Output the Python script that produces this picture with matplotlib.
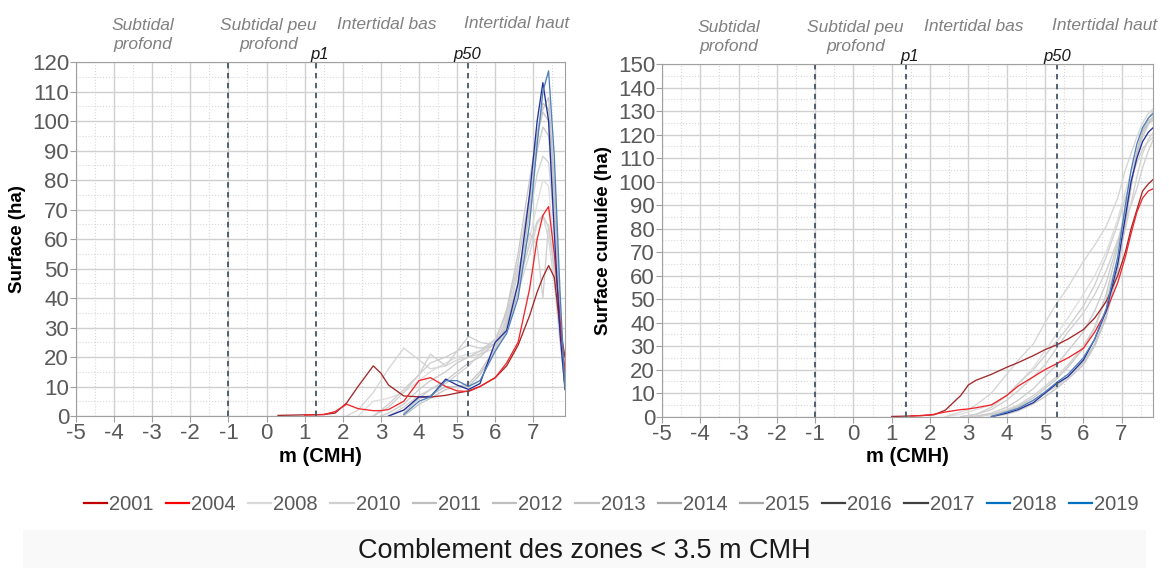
import numpy as np
import matplotlib
matplotlib.use('Agg')
import matplotlib.pyplot as plt
from matplotlib.lines import Line2D
from matplotlib.patches import Rectangle
from matplotlib.ticker import MultipleLocator

plt.rcParams['font.family'] = ['Liberation Sans', 'DejaVu Sans']
plt.rcParams['axes.unicode_minus'] = False

n = np.nan

# altitude grid (m CMH)
X = [0.3, 1.0, 1.5, 1.8, 2.1, 2.4, 2.8, 3.0, 3.2, 3.6, 4.0, 4.3, 4.7, 5.0, 5.3,
     5.6, 6.0, 6.3, 6.6, 6.9, 7.1, 7.25, 7.4, 7.55, 7.7, 7.83]

years = ['2001', '2004', '2008', '2010', '2011', '2012', '2013', '2014', '2015',
         '2016', '2017', '2018', '2019']

# surface (ha) par tranche d'altitude
d2001 = [0.2, 0.4, 0.5, 1.0, 4.4, 10, 17, 14.5, 10.5, 6.8, 6.5, 6.4, 7, 7.8, 8.5, 10, 13, 17, 24, 34, 42, 47, 51, 47, 30, 20]
d2004 = [n, 0.3, 0.5, 1.5, 4, 2.5, 1.8, 1.8, 2.2, 5, 12, 13, 10, 8.5, 8.3, 10, 13, 18, 25, 43, 60, 68, 71, 55, 33, 15]
d2008 = [n, n, n, n, n, 0, 5, 5.5, 6, 8, 12, 15, 18, 20, 21, 22, 24, 30, 42, 60, 72, 80, 78, 55, 30, 12]
d2010 = [n, n, n, n, 0, 2, 8, 12, 16, 23, 19, 16, 17, 19, 20, 21, 23, 30, 42, 55, 65, 68, 60, 45, 25, 10]
d2011 = [n, n, n, n, n, n, 0, 1.5, 3, 8, 14, 21, 17, 22, 27, 25, 24, 32, 50, 62, 58, 40, 65, 50, 28, 10]
d2012 = [n, n, n, n, n, n, n, 0, 1, 4, 9, 12, 15, 18, 20, 22, 26, 35, 52, 75, 90, 98, 95, 70, 35, 12]
d2013 = [n, n, n, n, n, n, n, n, 0, 2, 6, 9, 12, 15, 18, 20, 25, 36, 55, 80, 95, 103, 100, 72, 35, 10]
d2014 = [n, n, n, n, n, n, n, n, 0, 3, 7, 9, 11, 14, 17, 21, 26, 34, 48, 68, 82, 88, 86, 65, 32, 11]
d2015 = [n, n, n, n, n, n, 0, 2, 4, 9, 14, 18, 20, 22, 24, 23, 24, 33, 45, 58, 66, 68, 64, 50, 28, 10]
d2016 = [n, n, n, n, n, n, n, n, n, 1, 6, 7, 10, 10, 10, 14, 22, 29, 42, 70, 95, 106, 104, 75, 35, 10]
d2017 = [n, n, n, n, n, n, n, n, n, 0, 4, 6, 9, 10, 11, 15, 23, 31, 45, 72, 96, 104, 108, 80, 38, 10]
d2018 = [n, n, n, n, n, n, n, n, 0, 2, 6.5, 6.5, 12.5, 10.5, 9, 11, 25, 29, 45, 75, 100, 113, 100, 62, 28, 9]
d2019 = [n, n, n, n, n, n, n, n, n, 0.5, 5, 6.5, 12, 12, 10, 12, 22, 28, 40, 65, 92, 110, 117, 88, 42, 9]

# surface cumulee (ha)
c2001 = [n, 0.1, 0.3, 0.5, 0.8, 2.8, 9, 13.5, 15.5, 18, 21, 23, 26, 28.5, 30.5, 33, 37, 42, 49, 60, 70, 80, 88, 96, 99, 101]
c2004 = [n, n, 0.3, 0.5, 1.0, 2.0, 3, 3.3, 3.8, 5, 9, 13, 17, 20, 22.5, 25, 29, 36, 45, 57, 68, 78, 87, 93, 96, 97]
c2008 = [n, n, n, n, n, 0, 1, 2, 3, 5, 9, 14, 21, 28, 35, 42, 52, 60, 70, 84, 96, 104, 112, 119, 124, 127]
c2010 = [n, n, n, n, n, 0, 2, 3, 5, 10, 18, 24, 31, 40, 48, 55, 66, 73, 81, 93, 105, 112, 119, 125, 129, 131]
c2011 = [n, n, n, n, n, n, 0, 0.5, 1, 3, 7, 11, 17, 22, 29, 36, 44, 52, 62, 75, 84, 90, 97, 106, 113, 118]
c2012 = [n, n, n, n, n, n, n, 0, 0.3, 1.5, 4, 7, 12, 17, 22, 28, 36, 45, 57, 74, 88, 99, 110, 119, 125, 128]
c2013 = [n, n, n, n, n, n, n, n, 0, 1, 2.5, 4.5, 8, 12, 16, 21, 29, 38, 52, 72, 88, 100, 112, 121, 127, 130]
c2014 = [n, n, n, n, n, n, n, n, 0, 1, 3, 5, 9, 13, 17, 22, 30, 38, 50, 67, 80, 91, 102, 112, 118, 121]
c2015 = [n, n, n, n, n, n, 0, 0.5, 1, 4, 9, 14, 20, 26, 32, 38, 47, 56, 68, 82, 93, 101, 108, 114, 117, 119]
c2016 = [n, n, n, n, n, n, n, n, n, 0.5, 2, 4, 7, 10, 13, 17, 23, 31, 43, 63, 83, 98, 112, 121, 125, 126]
c2017 = [n, n, n, n, n, n, n, n, n, 0, 1, 2.5, 5.5, 8.5, 12, 16, 22, 30, 42, 62, 82, 98, 113, 122, 126, 127]
c2018 = [n, n, n, n, n, n, n, n, n, 0, 1.5, 3, 6, 10, 14, 17, 24, 33, 45, 65, 85, 100, 110, 117, 121, 123]
c2019 = [n, n, n, n, n, n, n, n, n, 0, 2, 3.5, 7, 10.5, 14.5, 18, 25, 33, 46, 68, 90, 105, 116, 123, 127, 129]

dens = [d2001, d2004, d2008, d2010, d2011, d2012, d2013, d2014, d2015, d2016, d2017, d2018, d2019]
cumu = [c2001, c2004, c2008, c2010, c2011, c2012, c2013, c2014, c2015, c2016, c2017, c2018, c2019]

plot_colors = ['#a3282a', '#f0262a', '#dedede', '#d6d6d6', '#d0d0d0', '#cccccc', '#c8c8c8',
               '#d2d2d2', '#cfcfcf', '#c4c4c4', '#c6c6c6', '#24309a', '#4f7fb8']
leg_colors = ['#c00000', '#ff0000', '#d9d9d9', '#d0d0d0', '#bfbfbf', '#bfbfbf', '#bfbfbf',
              '#a6a6a6', '#a6a6a6', '#404040', '#404040', '#0070c0', '#0070c0']
order = [2, 3, 4, 5, 6, 7, 8, 9, 10, 0, 1, 11, 12]

fig = plt.figure(figsize=(11.69, 5.68), dpi=100)
ax1 = fig.add_axes([0.065, 0.2676, 0.4183, 0.6232])
ax2 = fig.add_axes([0.5663, 0.2664, 0.4203, 0.6209])

zone_txt = [(-3.25, 1.077, 'Subtidal\nprofond'), (0.05, 1.077, 'Subtidal peu\nprofond'),
            (3.15, 1.105, 'Intertidal bas'), (6.55, 1.108, 'Intertidal haut')]


def style(ax, ymax, ylabel, p1, p50, data):
    for i in order:
        ax.plot(X, data[i], color=plot_colors[i], lw=0.95)
    ax.set_xlim(-5, 7.83)
    ax.set_ylim(0, ymax)
    ax.xaxis.set_major_locator(MultipleLocator(1))
    ax.xaxis.set_minor_locator(MultipleLocator(0.5))
    ax.yaxis.set_major_locator(MultipleLocator(10))
    ax.yaxis.set_minor_locator(MultipleLocator(5))
    ax.grid(which='major', color='#d0d0d0', lw=1.0)
    ax.grid(which='minor', color='#d8d8d8', lw=0.8, ls=':')
    ax.set_axisbelow(True)
    for s in ax.spines.values():
        s.set_color('#a0a0a0')
    ax.tick_params(which='major', colors='#a0a0a0', labelcolor='#595959', labelsize=16,
                   length=4, pad=1)
    ax.tick_params(which='minor', length=0)
    ax.set_ylabel(ylabel, fontsize=13.5, fontweight='bold', labelpad=4)
    ax.set_xlabel('m (CMH)', fontsize=14.5, fontweight='bold', labelpad=2)
    for xv in (-1, p1, p50):
        ax.axvline(xv, color='#44546a', lw=1.3, ls=(0, (3, 2.5)))
    tr = ax.get_xaxis_transform()
    ax.text(p1 + 0.1, 1.008, 'p1', transform=tr, ha='center', va='baseline',
            fontsize=12, style='italic', color='#1a1a1a')
    ax.text(p50, 1.008, 'p50', transform=tr, ha='center', va='baseline',
            fontsize=12, style='italic', color='#1a1a1a')
    for xv, yv, t in zone_txt:
        ax.text(xv, yv, t, transform=tr, ha='center', va='center', fontsize=12.5,
                style='italic', color='#808080', linespacing=1.3, clip_on=False)


style(ax1, 120, 'Surface (ha)', 1.30, 5.28, dens)
style(ax2, 150, 'Surface cumulée (ha)', 1.38, 5.31, cumu)

handles = [Line2D([], [], color=c, lw=1.6) for c in leg_colors]
leg = fig.legend(handles, years, loc='center', bbox_to_anchor=(0.5228, 0.111), ncol=13,
                 frameon=False, fontsize=14.5, handlelength=1.15, handletextpad=0.1,
                 columnspacing=0.62, labelcolor='#595959')

fig.patches.append(Rectangle((0.02, 0.0), 0.96, 0.067, transform=fig.transFigure,
                             facecolor='#f9f9f9', edgecolor='none', zorder=0))
fig.text(0.5, 0.03, 'Comblement des zones < 3.5 m CMH', ha='center', va='center',
         fontsize=19.5, color='#1a1a1a')

fig.savefig('out.png', dpi=100)
